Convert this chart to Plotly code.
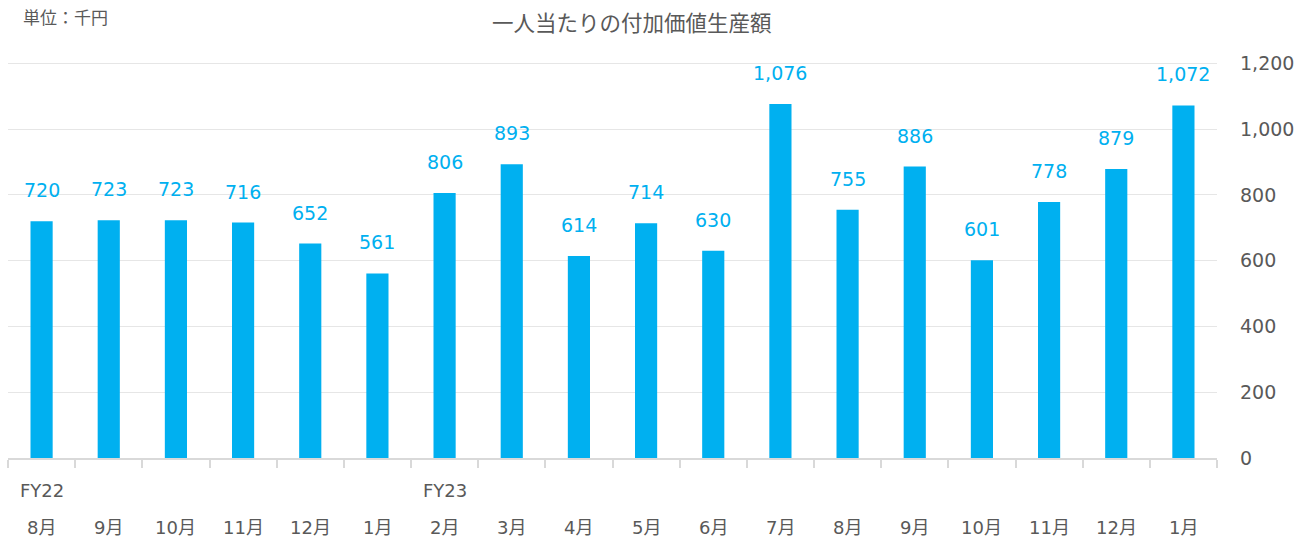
import plotly.graph_objects as go

months = ["8月", "9月", "10月", "11月", "12月", "1月", "2月", "3月", "4月", "5月",
          "6月", "7月", "8月", "9月", "10月", "11月", "12月", "1月"]
values = [720, 723, 723, 716, 652, 561, 806, 893, 614, 714, 630, 1076, 755, 886, 601, 778, 879, 1072]
fy_labels = {0: "FY22", 6: "FY23"}
y_ticks = [0, 200, 400, 600, 800, 1000, 1200]

x = [str(i) for i in range(len(values))]
BLUE = "#00B0F0"
GRAY = "#595959"
FONT = "DejaVu Sans, Noto Sans CJK JP"

# plot area: x 8..1217, y 458 (0) .. 63 (1200) in page pixels
Y_TOP = 1204
PLOT_H = 395 * Y_TOP / 1200
TOP = 458 - PLOT_H

fig = go.Figure()
fig.add_trace(go.Bar(x=x, y=values, marker=dict(color=BLUE, line=dict(width=0)), width=0.33))


def py(px):
    """page pixel row -> paper fraction"""
    return (458 - px) / PLOT_H


ann = []
for i, v in zip(x, values):
    ann.append(dict(x=i, y=v, xref="x", yref="y", text=f"{v:,}", showarrow=False,
                    yanchor="middle", yshift=31, font=dict(size=19, color=BLUE, family=FONT)))
for i, m in zip(x, months):
    ann.append(dict(x=i, y=py(527.5), xref="x", yref="paper", text=m, showarrow=False,
                    yanchor="middle", font=dict(size=18, color=GRAY, family=FONT)))
for i, f in fy_labels.items():
    ann.append(dict(x=x[i], y=py(491), xref="x", yref="paper", text=f, showarrow=False,
                    yanchor="middle", font=dict(size=18, color=GRAY, family=FONT)))
ann.append(dict(x=(632 - 8) / 1209, y=py(21), xref="paper", yref="paper",
                xanchor="center", yanchor="middle",
                text="一人当たりの付加価値生産額", showarrow=False,
                font=dict(size=21.5, color=GRAY, family="Noto Sans CJK JP")))
ann.append(dict(x=(21 - 8) / 1209, y=py(16), xref="paper", yref="paper",
                xanchor="left", yanchor="middle", text="単位：千円", showarrow=False,
                font=dict(size=17, color=GRAY, family="Noto Sans CJK JP")))

fig.update_layout(
    width=1311, height=545,
    margin=dict(l=8, r=94, t=TOP, b=87),
    paper_bgcolor="white", plot_bgcolor="white",
    showlegend=False,
    annotations=ann,
    xaxis=dict(type="category", range=[-0.5, len(values) - 0.5], showticklabels=False,
               tickson="boundaries", ticks="outside", ticklen=8, tickcolor="#d9d9d9",
               tickwidth=1.5, showgrid=False, showline=True, linecolor="#d9d9d9",
               linewidth=1.5),
    yaxis=dict(side="right", range=[0, Y_TOP], tickvals=y_ticks,
               ticktext=[f"{t:,}" for t in y_ticks], showgrid=True, gridcolor="#e6e6e6",
               gridwidth=1, zeroline=False, ticks="", ticklabelstandoff=22,
               tickfont=dict(size=19, color=GRAY, family=FONT)),
)

fig.write_html("out.html", post_script="document.body.style.margin='0';",
               config={"displayModeBar": False})
